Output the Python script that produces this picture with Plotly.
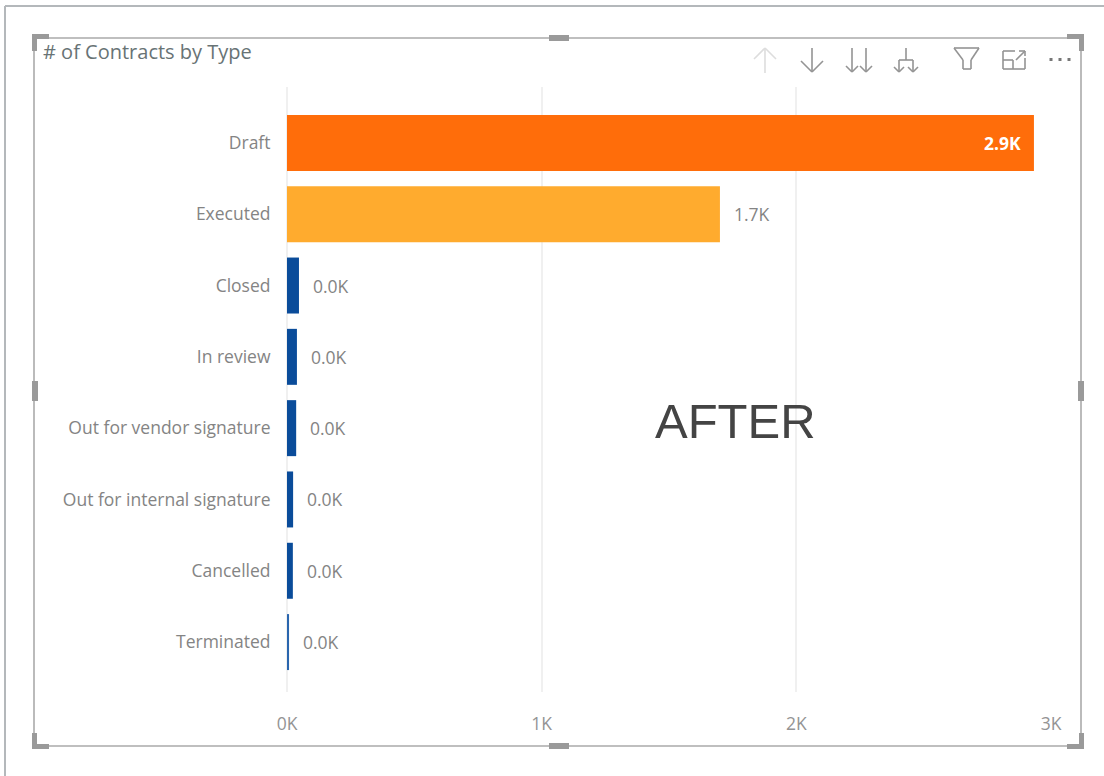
import plotly.graph_objects as go

categories = ["Draft", "Executed", "Closed", "In review", "Out for vendor signature",
              "Out for internal signature", "Cancelled", "Terminated"]
values = [2933, 1700, 47, 39, 36, 24, 23, 8]
labels = ["2.9K", "1.7K", "0.0K", "0.0K", "0.0K", "0.0K", "0.0K", "0.0K"]
colors = ["#FF6D0A", "#FFAB2E", "#0A4C9A", "#0A4C9A", "#0A4C9A", "#0A4C9A", "#0A4C9A", "#2A66AE"]
x_ticks = [0, 1000, 2000, 3000]
x_ticklabels = ["0K", "1K", "2K", "3K"]

FONT = "Open Sans"
L, R, T, B = 287, 1051, 87, 692
W, H = 1104, 776

def px(x):
    return (x - L) / (R - L)

def py(y):
    return (B - y) / (B - T)

shapes = []

def rect(x0, y0, x1, y1, color="#9a9a9a"):
    shapes.append(dict(type="rect", xref="paper", yref="paper", x0=px(x0), x1=px(x1),
                       y0=py(y0), y1=py(y1), fillcolor=color, line=dict(width=0), layer="above"))

def line(x0, y0, x1, y1, color="#8a8a8a", width=1.6):
    shapes.append(dict(type="line", xref="paper", yref="paper", x0=px(x0), x1=px(x1),
                       y0=py(y0), y1=py(y1), line=dict(color=color, width=width), layer="above"))

# outer window border
line(5, 6, W, 6, "#b4b8bb", 2)
line(5, 6, 5, H, "#b4b8bb", 2)
# visual frame
line(34, 38, 1081, 38, "#aaaaaa", 1.6)
line(34, 746, 1081, 746, "#aaaaaa", 1.6)
line(34, 38, 34, 746, "#aaaaaa", 1.6)
line(1081, 38, 1081, 746, "#aaaaaa", 1.6)
# corner handles
rect(32, 34, 49, 39); rect(32, 34, 37, 51)
rect(1067, 34, 1084, 39); rect(1079, 34, 1084, 51)
rect(32, 744, 49, 749); rect(32, 733, 37, 749)
rect(1067, 744, 1084, 749); rect(1079, 733, 1084, 749)
# edge handles
rect(549, 35, 569, 41); rect(549, 743, 569, 749)
rect(32, 381, 38, 401); rect(1078, 381, 1084, 401)

# toolbar icons
pale = "#dddddd"
ic = "#949494"
line(765, 48, 765, 73, pale); line(754, 59, 765, 48, pale); line(776, 59, 765, 48, pale)
line(812, 48, 812, 72, ic); line(801, 61, 812, 72, ic); line(823, 61, 812, 72, ic)
for xc in (852, 866):
    line(xc, 48, xc, 72, ic); line(xc - 6, 66, xc, 72, ic); line(xc + 6, 66, xc, 72, ic)
line(906, 48, 906, 60, ic); line(899, 60, 913, 60, ic)
for xc in (899, 913):
    line(xc, 60, xc, 72, ic); line(xc - 5, 67, xc, 72, ic); line(xc + 5, 67, xc, 72, ic)
line(954, 48, 979, 48, ic); line(954, 48, 963, 60, ic); line(979, 48, 971, 60, ic)
line(963, 60, 963, 69, ic); line(971, 60, 971, 69, ic); line(963, 69, 971, 69, ic)
line(1003, 51, 1015, 51, ic); line(1003, 51, 1003, 69, ic); line(1003, 69, 1025, 69, ic)
line(1025, 69, 1025, 58, ic); line(1003, 60, 1013, 60, ic); line(1013, 60, 1013, 69, ic)
line(1016, 60, 1025, 51, ic); line(1019, 51, 1025, 51, ic); line(1025, 51, 1025, 56, ic)
for xc in (1051, 1060, 1069):
    rect(xc - 1.5, 58, xc + 1.5, 61, "#777777")

fig = go.Figure(go.Bar(y=categories, x=values, orientation="h", marker=dict(color=colors, line=dict(width=0)),
                       width=0.785, hoverinfo="skip"))

annotations = [
    dict(text="# of Contracts by Type", xref="paper", yref="paper", x=px(41), y=py(52), xanchor="left",
         yanchor="middle", showarrow=False, font=dict(family=FONT, size=20, color="#687375")),
    dict(text="AFTER", xref="paper", yref="paper", x=px(735), y=py(420.5), xanchor="center",
         yanchor="middle", showarrow=False, font=dict(family="Liberation Sans", size=49, color="#444444")),
]
for i, (c, v, t) in enumerate(zip(categories, values, labels)):
    inside = i == 0
    annotations.append(dict(
        text=f"<b>{t}</b>" if inside else t, x=v, y=c, xref="x", yref="y", showarrow=False,
        xanchor="right" if inside else "left", yanchor="middle", xshift=-11 if inside else 12,
        font=dict(family=FONT, size=17.5, color="#ffffff" if inside else "#848484")))

fig.update_layout(
    width=W, height=H, paper_bgcolor="white", plot_bgcolor="white", showlegend=False,
    margin=dict(l=L, r=W - R, t=T, b=H - B, autoexpand=False),
    shapes=shapes, annotations=annotations, font=dict(family=FONT, size=17.5, color="#848484"),
    xaxis=dict(range=[0, 3000], tickvals=x_ticks, ticktext=x_ticklabels, showgrid=True, gridcolor="#f0f0f0",
               gridwidth=2, zeroline=True, zerolinecolor="#f0f0f0", zerolinewidth=2, ticks="outside",
               ticklen=16, tickcolor="rgba(0,0,0,0)", showline=False,
               tickfont=dict(family=FONT, size=17.5, color="#949494")),
    yaxis=dict(type="category", categoryorder="array", categoryarray=categories, range=[7.70, -0.784],
               showgrid=False, zeroline=False, showline=False, ticks="outside", ticklen=12,
               tickcolor="rgba(0,0,0,0)", tickfont=dict(family=FONT, size=17.5, color="#848484")),
)
fig.write_html("out.html", config=dict(displayModeBar=False),
               post_script="document.body.style.margin='0';document.body.style.overflow='hidden';")
